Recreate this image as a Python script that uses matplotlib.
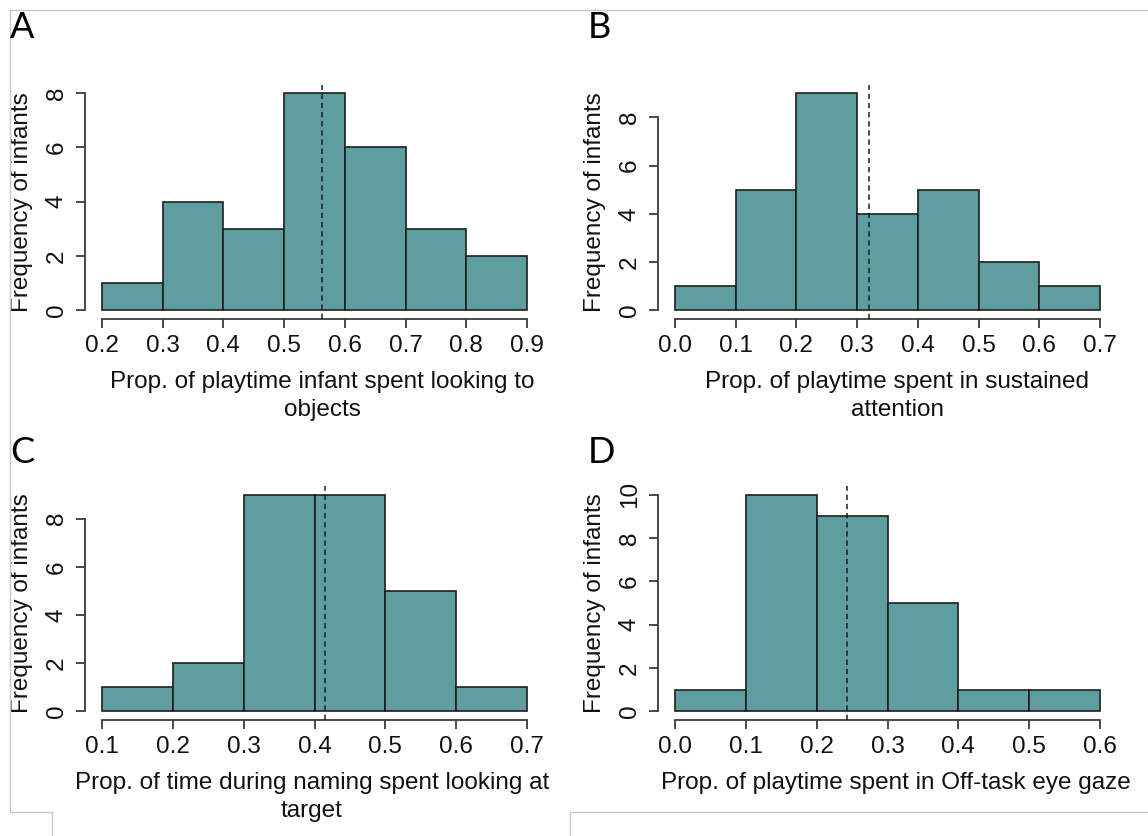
import matplotlib
matplotlib.use("Agg")
import matplotlib.pyplot as plt
from matplotlib.lines import Line2D

W, H = 1148, 836
FILL = "#5f9ea0"
INK = "#1e1e1e"
AXIS = "#3c3c3c"
FRAME = "#c8c8c8"
FS = 17.5

plt.rcParams["font.family"] = ["Liberation Sans", "DejaVu Sans"]

# A: looking to objects
bins_a = [0.2, 0.3, 0.4, 0.5, 0.6, 0.7, 0.8]
counts_a = [1, 4, 3, 8, 6, 3, 2]
mean_a = 0.563
xticks_a = ["0.2", "0.3", "0.4", "0.5", "0.6", "0.7", "0.8", "0.9"]
yticks_a = [0, 2, 4, 6, 8]
xlabel_a = "Prop. of playtime infant spent looking to\nobjects"

# B: sustained attention
bins_b = [0.0, 0.1, 0.2, 0.3, 0.4, 0.5, 0.6]
counts_b = [1, 5, 9, 4, 5, 2, 1]
mean_b = 0.320
xticks_b = ["0.0", "0.1", "0.2", "0.3", "0.4", "0.5", "0.6", "0.7"]
yticks_b = [0, 2, 4, 6, 8]
xlabel_b = "Prop. of playtime spent in sustained\nattention"

# C: looking at target during naming
bins_c = [0.1, 0.2, 0.3, 0.4, 0.5, 0.6]
counts_c = [1, 2, 9, 9, 5, 1]
mean_c = 0.415
xticks_c = ["0.1", "0.2", "0.3", "0.4", "0.5", "0.6", "0.7"]
yticks_c = [0, 2, 4, 6, 8]
xlabel_c = "Prop. of time during naming spent looking at\ntarget"

# D: off-task eye gaze
bins_d = [0.0, 0.1, 0.2, 0.3, 0.4, 0.5]
counts_d = [1, 10, 9, 5, 1, 1]
mean_d = 0.243
xticks_d = ["0.0", "0.1", "0.2", "0.3", "0.4", "0.5", "0.6"]
yticks_d = [0, 2, 4, 6, 8, 10]
xlabel_d = "Prop. of playtime spent in Off-task eye gaze"

YLABEL = "Frequency of infants"


def px_axes(fig, left, top, right, bottom):
    return fig.add_axes([left / W, 1 - bottom / H, (right - left) / W, (bottom - top) / H])


def hist_panel(ax, bins, counts, mean, xticks, yticks, xlabel, box, label_cx):
    left, top, right, bottom = box
    ax.bar(bins, counts, width=0.1, align="edge", color=FILL,
           edgecolor=INK, linewidth=1.2, zorder=2)
    xt = [float(t) for t in xticks]
    span = xt[-1] - xt[0]
    ymax = max(counts)
    ax.set_xlim(xt[0] - 0.04 * span, xt[-1] + 0.04 * span)
    ax.set_ylim(-0.04 * ymax, 1.04 * ymax)
    ax.axvline(mean, color=INK, linewidth=1.1, linestyle=(0, (3.5, 2.5)), zorder=3)

    for side in ("top", "right"):
        ax.spines[side].set_visible(False)
    for side in ("left", "bottom"):
        ax.spines[side].set_color(AXIS)
        ax.spines[side].set_linewidth(1.3)
    ax.spines["bottom"].set_bounds(xt[0], xt[-1])
    ax.spines["left"].set_bounds(yticks[0], yticks[-1])

    ax.set_xticks(xt)
    ax.set_xticklabels(xticks)
    ax.set_yticks(yticks)
    ax.set_yticklabels([str(v) for v in yticks])
    ax.tick_params(length=6.5, width=1.3, color=AXIS, labelsize=FS, labelcolor="#111111")
    ax.tick_params(axis="x", pad=5)
    ax.tick_params(axis="y", pad=6, labelrotation=90)
    for lab in ax.get_yticklabels():
        lab.set_va("center")

    w = right - left
    h = bottom - top
    ax.set_xlabel(xlabel, fontsize=FS, linespacing=1.35, color="#111111")
    ax.xaxis.set_label_coords((label_cx - left) / w, -(371 - 319) / h)
    ax.set_ylabel(YLABEL, fontsize=FS, color="#111111")
    ax.yaxis.label.set_va("center")
    ax.yaxis.set_label_coords(-(left - 22 - (0 if left < 300 else 573)) / w, 0.5)


fig = plt.figure(figsize=(W / 100, H / 100), dpi=100)

box_a = (85, 84.5, 544, 319)
box_b = (658, 84.5, 1117, 319)
box_c = (85, 486, 544, 720)
box_d = (658, 486, 1117, 720)

ax_a = px_axes(fig, *box_a)
hist_panel(ax_a, bins_a, counts_a, mean_a, xticks_a, yticks_a, xlabel_a, box_a, 322)
ax_b = px_axes(fig, *box_b)
hist_panel(ax_b, bins_b, counts_b, mean_b, xticks_b, yticks_b, xlabel_b, box_b, 897)
ax_c = px_axes(fig, *box_c)
hist_panel(ax_c, bins_c, counts_c, mean_c, xticks_c, yticks_c, xlabel_c, box_c, 312)
ax_d = px_axes(fig, *box_d)
hist_panel(ax_d, bins_d, counts_d, mean_d, xticks_d, yticks_d, xlabel_d, box_d, 896)

# panel letters
for letter, x, y in (("A", 10, 38), ("B", 588, 38), ("C", 10, 463), ("D", 588, 463)):
    fig.text(x / W, 1 - y / H, letter, fontsize=26, family=["Lato", "DejaVu Sans"],
             ha="left", va="baseline", color="black")

# faint document frame around the figure
def frame_line(xs, ys):
    fig.add_artist(Line2D([x / W for x in xs], [1 - y / H for y in ys],
                          color=FRAME, linewidth=1.0, transform=fig.transFigure))

frame_line([10, W], [10, 10])
frame_line([10, 10], [10, 812])
frame_line([10, 52], [812, 812])
frame_line([52, 52], [812, H])
frame_line([570, W], [812, 812])
frame_line([570, 570], [812, H])

fig.savefig("out.png", dpi=100, facecolor="white")
